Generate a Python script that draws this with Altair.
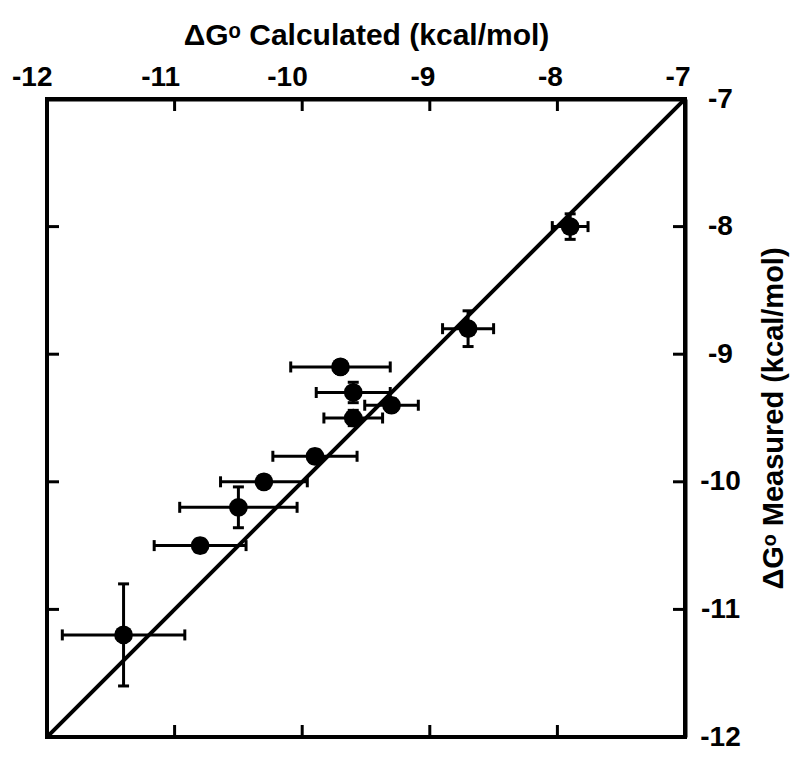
import altair as alt
import pandas as pd

# Data
x_calc = [-7.90, -8.70, -9.70, -9.60, -9.30, -9.60, -9.90, -10.30, -10.50, -10.80, -11.40]
x_err = [0.14, 0.20, 0.39, 0.29, 0.21, 0.23, 0.33, 0.34, 0.46, 0.36, 0.48]
y_meas = [-8.00, -8.80, -9.10, -9.30, -9.40, -9.50, -9.80, -10.00, -10.20, -10.50, -11.20]
y_err = [0.10, 0.14, 0.05, 0.08, 0.05, 0.06, 0.05, 0.05, 0.16, 0.05, 0.40]

tick_values = [-12, -11, -10, -9, -8, -7]
inner_ticks = [-11, -10, -9, -8]
diag = [-12, -7]

W = 638
H = 638
FONT = "Liberation Sans"
LABEL_EXPR = "replace(datum.label, '\u2212', '-')"

df = pd.DataFrame({
    "x": x_calc, "y": y_meas,
    "xlo": [a - b for a, b in zip(x_calc, x_err)],
    "xhi": [a + b for a, b in zip(x_calc, x_err)],
    "ylo": [a - b for a, b in zip(y_meas, y_err)],
    "yhi": [a + b for a, b in zip(y_meas, y_err)],
})
diag_df = pd.DataFrame({"x": diag, "y": diag})
ticks_df = pd.DataFrame({"v": inner_ticks})

xscale = alt.Scale(domain=[-12, -7], nice=False, zero=False)
yscale = alt.Scale(domain=[-12, -7], nice=False, zero=False)

xaxis = alt.Axis(orient="top", values=tick_values, format="d", labelExpr=LABEL_EXPR,
                 ticks=False, tickSize=0, grid=False, domainColor="black", domainWidth=4,
                 labelFont=FONT, labelFontWeight="bold", labelFontSize=28, labelColor="black",
                 labelAlign="right", labelBaseline="middle", labelOffset=5, labelPadding=22,
                 labelOverlap=False,
                 title="ΔGᵒ Calculated (kcal/mol)", titleFont=FONT, titleFontWeight="bold",
                 titleFontSize=30, titleColor="black", titleX=W / 2, titleY=-64,
                 titleAlign="center", titleBaseline="middle", titleAngle=0)
yaxis = alt.Axis(orient="right", values=tick_values, format="d", labelExpr=LABEL_EXPR,
                 ticks=False, tickSize=0, grid=False, domainColor="black", domainWidth=4,
                 labelFont=FONT, labelFontWeight="bold", labelFontSize=28, labelColor="black",
                 labelAlign="center", labelBaseline="middle", labelPadding=35, labelOverlap=False,
                 title="ΔGᵒ Measured (kcal/mol)", titleFont=FONT, titleFontWeight="bold",
                 titleFontSize=29, titleColor="black", titleAngle=270,
                 titleX=88, titleY=H / 2, titleAlign="center", titleBaseline="middle")

base = alt.Chart(df)

line = alt.Chart(diag_df).mark_line(color="black", strokeWidth=4, clip=True).encode(
    x=alt.X("x:Q", scale=xscale, axis=xaxis),
    y=alt.Y("y:Q", scale=yscale, axis=yaxis),
)

xbars = base.mark_rule(color="black", strokeWidth=3).encode(
    x="xlo:Q", x2="xhi:Q", y="y:Q")
ybars = base.mark_rule(color="black", strokeWidth=3).encode(
    y="ylo:Q", y2="yhi:Q", x="x:Q")
cap = dict(color="black", opacity=1, thickness=3, size=11)
xcap_lo = base.mark_tick(orient="vertical", **cap).encode(x="xlo:Q", y="y:Q")
xcap_hi = base.mark_tick(orient="vertical", **cap).encode(x="xhi:Q", y="y:Q")
ycap_lo = base.mark_tick(orient="horizontal", **cap).encode(x="x:Q", y="ylo:Q")
ycap_hi = base.mark_tick(orient="horizontal", **cap).encode(x="x:Q", y="yhi:Q")
points = base.mark_circle(color="black", opacity=1, size=350).encode(
    x="x:Q", y="y:Q")

tk = alt.Chart(ticks_df)
top_ticks = tk.mark_rule(color="black", strokeWidth=3).encode(
    x="v:Q", y=alt.value(0), y2=alt.value(12))
bottom_ticks = tk.mark_rule(color="black", strokeWidth=3).encode(
    x="v:Q", y=alt.value(H), y2=alt.value(H - 12))
left_ticks = tk.mark_rule(color="black", strokeWidth=3).encode(
    y="v:Q", x=alt.value(0), x2=alt.value(12))
right_ticks = tk.mark_rule(color="black", strokeWidth=3).encode(
    y="v:Q", x=alt.value(W), x2=alt.value(W - 12))

chart = alt.layer(
    line, xbars, ybars, xcap_lo, xcap_hi, ycap_lo, ycap_hi, points,
    top_ticks, bottom_ticks, left_ticks, right_ticks,
).properties(
    width=W, height=H,
    autosize=alt.AutoSizeParams(type="none"),
    padding={"left": 39, "top": 91, "right": 105, "bottom": 20},
    background="white",
).configure_view(
    stroke="black", strokeWidth=4
)

chart.save("out.html", embed_options={"renderer": "svg", "actions": False})
